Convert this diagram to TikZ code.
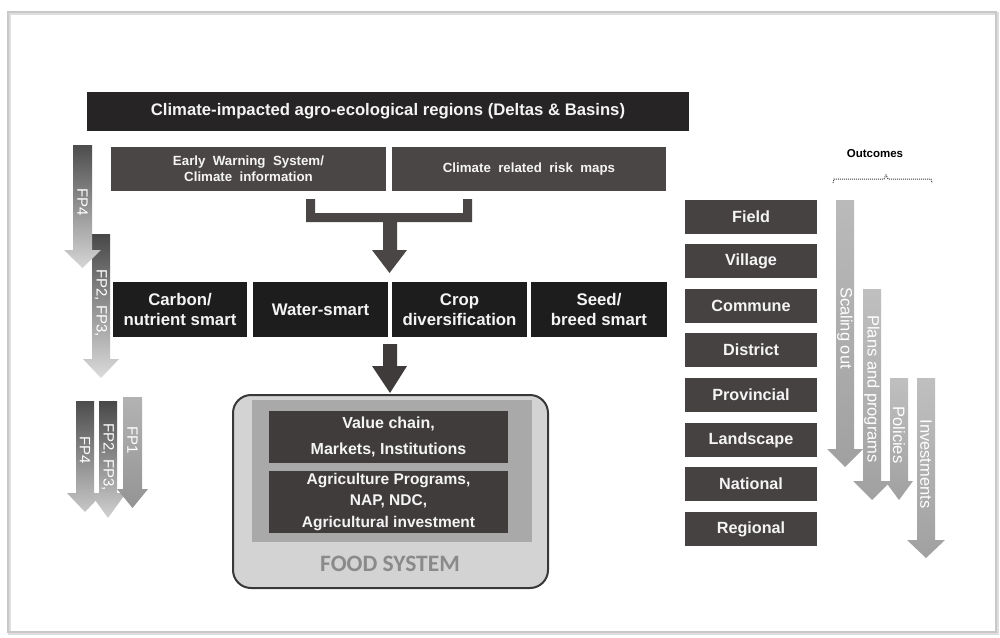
\documentclass[tikz,border=0pt]{standalone}
\usepackage{fontspec}
\setmainfont{Liberation Sans}
\newfontfamily\fsfont{Carlito}
\definecolor{topbar}{HTML}{262424}
\definecolor{infobox}{HTML}{4B4646}
\definecolor{smartbox}{HTML}{1E1D1D}
\definecolor{levelbox}{HTML}{474242}
\definecolor{foodbox}{HTML}{403C3C}
\definecolor{foodouter}{HTML}{D3D3D3}
\definecolor{foodmid}{HTML}{A9A9A9}
\definecolor{fsgray}{HTML}{8A8A8A}
\definecolor{arrdark}{HTML}{3F3B3B}
\definecolor{framegray}{HTML}{C8C8C8}
\definecolor{txtw}{HTML}{F4F4F4}
\newcommand\blockarrow[8]{%
  \shade[top color=#7, bottom color=#8] (#1,#3) -- (#2,#3) -- (#2,#4) -- ({#2+#6},#4) -- ({(#1+#2)/2},#5) -- ({#1-#6},#4) -- (#1,#4) -- cycle;}
\tikzset{
  boxbase/.style={inner sep=0pt, text=txtw, align=center},
  topbarbox/.style={boxbase, fill=topbar, minimum width=602pt, minimum height=39pt, font=\fontsize{16.7}{19}\selectfont\bfseries},
  infobx/.style={boxbase, fill=infobox, minimum width=275pt, minimum height=44pt, font=\fontsize{13.3}{16}\selectfont\bfseries},
  smartbx/.style={boxbase, fill=smartbox, minimum width=135pt, minimum height=55pt, font=\fontsize{16.8}{20}\selectfont\bfseries},
  levelbx/.style={boxbase, fill=levelbox, minimum width=132pt, minimum height=34pt, font=\fontsize{16.2}{19}\selectfont\bfseries},
  foodbx/.style={boxbase, fill=foodbox, minimum width=239pt, font=\bfseries},
  arrtext/.style={inner sep=0pt, text=white, rotate=-90, font=\fontsize{15}{18}\selectfont},
  outtext/.style={inner sep=0pt, text=white, rotate=-90, font=\fontsize{16.5}{19}\selectfont},
}
\begin{document}
\begin{tikzpicture}[x=1pt,y=-1pt]
\useasboundingbox (0,0) rectangle (1000,637);
\fill[white] (0,0) rectangle (1000,637);
% frame
\draw[framegray!60, line width=3pt] (9,13) rectangle (997,633);
\draw[framegray, line width=1.2pt] (8,12) rectangle (996,632);

% top bar
\node[topbarbox] (regions) at (388,111.5) {Climate-impacted agro-ecological regions (Deltas \& Basins)};
% info boxes
\node[infobx] (ews) at (248.5,169) {Early\ \ Warning\ \ System/\\Climate\ \ information};
\node[infobx, minimum width=274pt] (risk) at (529,169) {Climate\ \ related\ \ risk\ \ maps};

% bracket + arrow
\fill[infobox] (306,199) -- (315,199) -- (315,213) -- (463,213) -- (463,199) -- (472,199) -- (472,222)
  -- (397,222) -- (397,250) -- (407,250) -- (389.5,273) -- (372,250) -- (383,250) -- (383,222)
  -- (306,222) -- cycle;

% smart row
\node[smartbx, minimum width=134pt] (carbon) at (180,309.5) {Carbon/\\nutrient smart};
\node[smartbx] (water) at (320.5,309.5) {Water-smart};
\node[smartbx] (crop) at (459.5,309.5) {Crop\\diversification};
\node[smartbx, minimum width=136pt] (seed) at (599,309.5) {Seed/\\breed smart};

% arrow to food system
\fill[arrdark] (383,344) -- (397,344) -- (397,366) -- (407,366) -- (390,393) -- (372,366) -- (383,366) -- cycle;

% food system
\draw[fill=foodouter, draw=black!78, line width=2pt, rounded corners=18pt] (233,395) rectangle (548,588);
\fill[foodmid] (252,400) rectangle (532,542);
\node[foodbx, minimum height=52pt, font=\fontsize{16}{26}\selectfont\bfseries] (value) at (388.5,437) {Value chain,\\Markets, Institutions};
\node[foodbx, minimum height=62pt, font=\fontsize{15.5}{21.5}\selectfont\bfseries] (agri) at (388.5,502) {Agriculture Programs,\\NAP, NDC,\\Agricultural investment};
\node[inner sep=0pt, text=fsgray, font=\fsfont\fontsize{23.5}{26}\selectfont\bfseries] (fs) at (390,564) {FOOD SYSTEM};

% levels
\node[levelbx] (field) at (751,217) {Field};
\node[levelbx] (village) at (751,261) {Village};
\node[levelbx] (commune) at (751,306) {Commune};
\node[levelbx] (district) at (751,350) {District};
\node[levelbx] (provincial) at (751,395) {Provincial};
\node[levelbx] (landscape) at (751,440) {Landscape};
\node[levelbx] (national) at (751,484) {National};
\node[levelbx] (regional) at (751,529) {Regional};

% left FP arrows
\blockarrow{92}{110}{234}{359}{378}{9}{black!72}{black!14}
\node[arrtext] (fp23a) at (101,303) {FP2, FP3,};
\blockarrow{73}{92}{145}{250}{268}{9}{black!70}{black!16}
\node[arrtext] (fp4a) at (82.5,202) {FP4};

\blockarrow{76}{94}{401}{493}{512}{9}{black!70}{black!22}
\node[arrtext] (fp4b) at (85,450) {FP4};
\blockarrow{99}{117}{401}{493}{518}{9}{black!72}{black!18}
\node[arrtext] (fp23b) at (108,457) {FP2, FP3,};
\blockarrow{123}{142}{397}{489}{508}{6}{black!30}{black!42}
\node[arrtext] (fp1) at (132.5,440) {FP1};

% outcomes
\node[inner sep=0pt, font=\fontsize{11.5}{13}\selectfont\bfseries] (outcomes) at (875,154) {Outcomes};
\draw[black!75, densely dotted, line width=1pt] (833,183) -- (834,179) -- (884,179) -- (886,175) -- (888,179) -- (931,179) -- (932,183);

\blockarrow{836}{854}{200}{449}{467}{9}{black!27}{black!37}
\node[outtext] (scaling) at (845,328) {Scaling out};
\blockarrow{863}{881}{289}{481}{500}{10}{black!25}{black!37}
\node[outtext] (plans) at (872,389) {Plans and programs};
\blockarrow{890}{908}{378}{481}{500}{5}{black!25}{black!37}
\node[outtext] (policies) at (899,435) {Policies};
\blockarrow{917}{935}{378}{540}{558}{10}{black!25}{black!37}
\node[outtext] (invest) at (926,464) {Investments};
\end{tikzpicture}
\end{document}
